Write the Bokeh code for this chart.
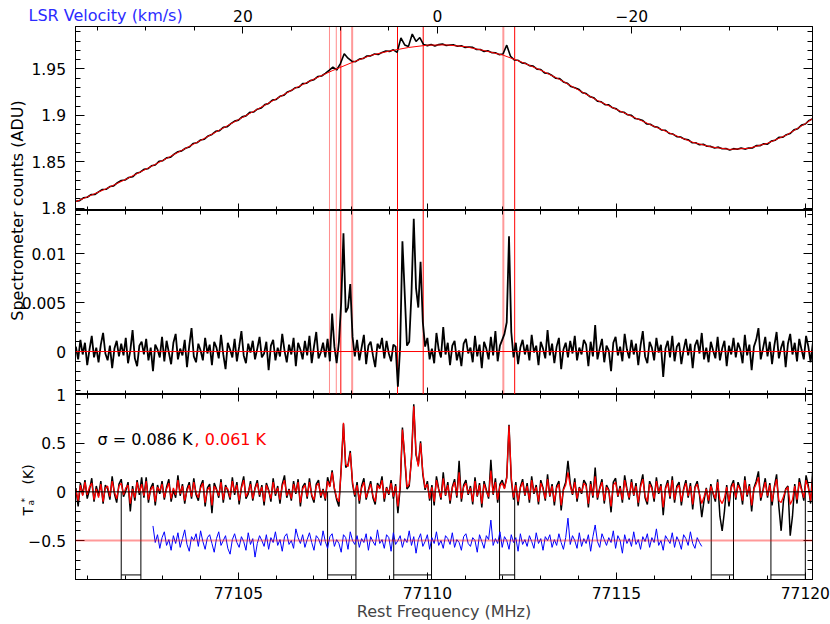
import numpy as np
from bokeh.plotting import figure
from bokeh.models import Range1d, LinearAxis, FixedTicker, Label, Span, ColumnDataSource
from bokeh.layouts import column, row
from bokeh.embed import file_html
from bokeh.resources import INLINE

# ------------------------------------------------------------------ data
freq_lo, freq_hi = 77100.69, 77120.19      # MHz, plotted window
v0_freq = 77110.265                         # MHz where v_LSR = 0
C_KMS = 299792.458

# panel 1: fitted baseline (red), ADU x 1e-4
base_freq = [77100.7, 77101.0, 77101.5, 77102.0, 77102.5, 77103.0, 77103.5, 77104.0,
             77104.5, 77105.0, 77105.5, 77106.0, 77106.5, 77107.0, 77107.5, 77108.0,
             77108.5, 77109.0, 77109.5, 77110.0, 77110.5, 77111.0, 77111.5, 77112.0,
             77112.5, 77113.0, 77113.5, 77114.0, 77114.5, 77115.0, 77115.5, 77116.0,
             77116.5, 77117.0, 77117.5, 77118.0, 77118.5, 77119.0, 77119.5, 77120.0,
             77120.2]
base_counts_e4 = [18071, 18122, 18210, 18308, 18410, 18515, 18623, 18730,
                  18842, 18954, 19065, 19178, 19292, 19391, 19484, 19568,
                  19646, 19693, 19731, 19756, 19759, 19740, 19698, 19649,
                  19573, 19487, 19387, 19272, 19161, 19065, 18973, 18882,
                  18795, 18713, 18661, 18634, 18645, 18700, 18788, 18911,
                  18968]

# panel 1: measured counts (black), 0.1 MHz sampling, ADU x 1e-4
top_freq0, top_dfreq = 77100.7, 0.1
top_counts_e4 = [
    18075, 18082, 18113, 18119, 18147, 18148, 18177, 18202, 18205, 18234,
    18241, 18275, 18299, 18304, 18331, 18339, 18376, 18388, 18419, 18425,
    18457, 18466, 18506, 18512, 18543, 18549, 18583, 18609, 18618, 18646,
    18659, 18697, 18705, 18735, 18744, 18779, 18795, 18829, 18836, 18871,
    18877, 18912, 18938, 18949, 18984, 18995, 19032, 19036, 19067, 19079,
    19116, 19129, 19164, 19172, 19205, 19216, 19253, 19267, 19297, 19303,
    19342, 19346, 19374, 19384, 19418, 19424, 19453, 19485, 19519, 19489,
    19558, 19664, 19616, 19583, 19578, 19606, 19612, 19639, 19641, 19661,
    19656, 19678, 19693, 19689, 19706, 19678, 19834, 19758, 19743, 19876,
    19796, 19838, 19763, 19751, 19764, 19748, 19762, 19769, 19753, 19758,
    19759, 19744, 19750, 19732, 19737, 19732, 19709, 19709, 19688, 19695,
    19676, 19675, 19654, 19661, 19756, 19637, 19597, 19593, 19565, 19560,
    19536, 19530, 19498, 19494, 19457, 19452, 19429, 19400, 19396, 19360,
    19347, 19310, 19298, 19282, 19245, 19235, 19202, 19191, 19152, 19146,
    19116, 19114, 19082, 19070, 19039, 19034, 19006, 19000, 18966, 18958,
    18945, 18908, 18905, 18879, 18872, 18842, 18840, 18805, 18799, 18771,
    18768, 18744, 18738, 18707, 18706, 18683, 18689, 18667, 18666, 18649,
    18658, 18640, 18643, 18626, 18642, 18635, 18650, 18637, 18648, 18649,
    18675, 18674, 18695, 18691, 18723, 18732, 18763, 18764, 18792, 18805,
    18844, 18857, 18895, 18907, 18946, 18965]

# panels 2-3: channel grid
chan_freq0, chan_dfreq = 77100.70, 0.06

# panel 2: residual counts, ADU x 1e-4
resid_e4 = [
    5, -8, 12, -3, 9, -14, 2, 16, -6, 4,
    -11, 7, 19, -2, -9, 6, -17, 3, 11, -5,
    8, -4, 14, -12, 1, 22, -7, -15, 6, 10,
    -3, 13, -9, 4, -20, 7, 2, -6, 15, -10,
    11, -1, -13, 9, 18, -8, 3, -4, 12, -16,
    6, 24, -5, -11, 8, 1, -9, 14, -2, 7,
    -14, 10, 4, -7, 17, -3, -18, 9, 2, -6,
    13, -10, 5, 21, -4, -12, 8, -1, 11, -8,
    3, 15, -6, -2, 10, -19, 6, 12, -9, 4,
    -5, 18, 1, -11, 7, -3, 14, -15, 9, 2,
    -8, 11, -4, 16, -12, 5, 20, -7, -1, 9,
    -6, 13, -10, 39, 5, -12, 10, 50, 121, 40,
    45, 69, 15, -5, 12, -9, 4, 17, -13, 6,
    10, -4, -16, 8, 3, 14, -7, 11, -2, -10,
    7, 5, -36, 5, 113, 60, 6, 10, 60, 136,
    65, 45, 92, 30, 5, 14, -8, 3, -12, 19,
    2, -6, 25, -3, 9, -14, 6, 11, -9, 1,
    -15, 8, 13, -2, 4, -11, 16, -5, 7, -17,
    10, 3, -8, 15, -4, 21, -10, 6, 12, 18,
    30, 118, 20, -6, 9, -13, 4, 12, -3, 7,
    -9, 17, -1, 6, -14, 10, 3, -7, 22, -4,
    8, -12, 5, 14, -18, 2, 9, -6, 11, -2,
    16, -9, 4, -3, 12, 7, -15, 10, -5, 27,
    -8, 3, 13, -11, 6, 1, -20, 9, 15, -4,
    5, -10, 18, 2, -7, 12, -3, 8, -14, 6,
    21, -5, -12, 10, 4, -9, 14, -1, 7, -26,
    3, 11, -6, 16, -10, 5, 9, -13, 2, 13,
    -4, 8, -17, 6, 12, -2, 19, -8, 4, -11,
    10, 1, -7, 15, -9, 3, 11, -15, 6, -3,
    14, -6, 9, 2, -12, 17, -4, 7, -19, 5,
    12, 24, -8, 3, 15, -5, 10, -13, 6, 20,
    -7, 4, 11, -16, 8, 18, -3, 9, -10, 13,
    2, -8, 16, 5, -11, 9]

# panel 3: antenna temperature, K x 100
ta_black_cK = [
    4, -15, 9, -3, 12, -7, 2, 14, -10, 6,
    -4, 11, -12, 7, 3, -8, 16, -2, -11, 8,
    13, -5, 1, 10, -20, 6, -9, 12, -3, 15,
    -6, 15, -11, 4, 9, -14, 7, -2, 11, -8,
    5, 13, -10, 2, -6, 17, -4, 8, -12, 3,
    10, -7, 14, -3, -9, 6, 12, -15, 4, 8,
    -22, 9, 3, -6, 13, -11, 7, 1, -8, 15,
    -3, 10, -13, 5, 16, -7, -2, 11, -9, 4,
    12, -5, 7, -14, 9, 2, -10, 14, -4, 6,
    -12, 8, 17, -6, 3, -9, 11, -2, 13, -15,
    5, 9, -7, 14, -4, -11, 8, 12, -6, 3,
    -9, 15, 6, 22, 3, -8, -15, 25, 70, 25,
    28, 42, 8, -5, 10, -12, 6, 14, -8, 2,
    11, -6, -13, 9, 4, 16, -10, 5, -3, 12,
    -7, 8, -22, 4, 66, 35, 3, 6, 35, 90,
    38, 28, 52, 18, 2, 11, -9, 7, -14, 16,
    3, -8, 20, -4, 10, -12, 5, 13, -6, 32,
    -10, 7, 12, -3, 6, -13, 15, -5, 9, -16,
    11, 2, -7, 33, -3, 14, -11, 8, 12, 4,
    15, 69, 12, -8, 10, -14, 5, 13, -4, 9,
    -11, 16, -2, 7, -13, 12, 4, -9, 18, -5,
    8, -14, 6, 11, -19, 3, 10, 32, 9, -3,
    14, -10, 5, -2, 12, 8, -16, 11, -6, 25,
    -8, 4, 13, -12, 7, 2, -21, 10, 14, -5,
    6, -11, 17, 3, -8, 13, -4, 9, -15, 7,
    18, -6, -13, 11, 5, -10, 15, -2, 8, -24,
    4, 12, -7, 16, -11, 6, 10, -14, 3, 12,
    -6, 9, -18, 5, 11, -3, -26, -9, 4, -12,
    8, -2, -10, 13, -25, -40, -20, 7, -15, 6,
    12, -8, 10, 3, -13, 16, -5, 8, -20, 4,
    11, 21, -9, 2, 14, -6, 9, -14, 5, 18,
    -15, -40, -10, 3, 6, -45, -25, 8, -12, 14,
    3, -9, 17, 6, -12, 25]

ta_red_cK = [
    2, -9, 7, -4, 10, -3, 5, 9, -8, 3,
    -6, 8, -10, 4, 6, -5, 11, 0, -7, 6,
    9, -3, 4, 7, -12, 3, -6, 10, -1, 8,
    -4, 11, -8, 2, 6, -10, 5, 1, 8, -6,
    3, 9, -7, 4, -3, 12, -2, 6, -9, 1,
    7, -5, 10, -1, -6, 4, 9, -11, 2, 5,
    -14, 6, 2, -4, 10, -8, 5, 3, -6, 11,
    -1, 7, -9, 4, 12, -5, 0, 8, -7, 3,
    9, -3, 5, -10, 7, 1, -7, 10, -2, 4,
    -8, 6, 12, -4, 2, -7, 8, -1, 10, -11,
    3, 7, -5, 10, -3, -8, 6, 9, -4, 2,
    -7, 11, 5, 20, 4, -6, -10, 22, 71, 28,
    26, 40, 10, -3, 7, -9, 4, 10, -6, 1,
    8, -4, -10, 7, 3, 12, -7, 4, -2, 9,
    -5, 6, -15, 6, 64, 38, 5, 8, 33, 88,
    40, 26, 50, 20, 4, 8, -7, 5, -10, 12,
    2, -6, 14, -3, 7, -9, 4, 10, -4, 20,
    -7, 5, 9, -2, 4, -10, 11, -4, 7, -12,
    8, 1, -5, 22, -2, 10, -8, 6, 9, 3,
    14, 68, 15, -6, 7, -10, 4, 10, -3, 6,
    -8, 12, -1, 5, -10, 9, 3, -7, 13, -4,
    6, -10, 4, 8, -14, 2, 7, 20, 6, -2,
    10, -7, 4, -1, 9, 6, -12, 8, -4, 16,
    -6, 3, 10, -9, 5, 1, -15, 7, 10, -4,
    4, -8, 12, 2, -6, 10, -3, 6, -11, 5,
    13, -4, -10, 8, 3, -7, 11, -1, 6, -16,
    3, 9, -5, 12, -8, 4, 7, -10, 2, 9,
    -4, 6, -13, 4, 8, -2, -12, -5, 3, -9,
    6, -1, -7, 10, -8, -12, -6, 5, -10, 4,
    9, -6, 7, 2, -9, 12, -3, 6, -14, 3,
    8, 15, -6, 1, 10, -4, 7, -10, 4, 13,
    -9, -11, -5, 2, 5, -13, -8, 6, -8, 10,
    2, -6, 12, 4, -9, 16]

blue_chan0 = 34
ta_blue_cK = [
    -35, -52, -44, -58, -47, -41, -55, -49, -60, -45,
    -53, -42, -57, -48, -39, -54, -61, -46, -50, -43,
    -56, -40, -51, -59, -47, -44, -53, -62, -48, -41,
    -55, -50, -45, -58, -64, -49, -43, -52, -57, -46,
    -51, -60, -42, -54, -48, -67, -53, -45, -50, -56,
    -44, -59, -47, -52, -41, -55, -49, -61, -46, -43,
    -54, -50, -58, -38, -47, -53, -44, -57, -49, -42,
    -52, -60, -45, -48, -55, -40, -51, -58, -46, -43,
    -56, -49, -53, -62, -44, -47, -59, -41, -50, -54,
    -45, -57, -48, -52, -43, -60, -46, -51, -55, -39,
    -53, -49, -58, -44, -47, -61, -42, -54, -50, -45,
    -57, -48, -52, -40, -55, -46, -63, -49, -43, -56,
    -51, -44, -59, -47, -53, -41, -55, -50, -58, -45,
    -48, -54, -42, -57, -49, -52, -60, -46, -43, -53,
    -56, -47, -50, -62, -44, -51, -58, -45, -49, -29,
    -55, -48, -53, -41, -57, -46, -50, -59, -44, -52,
    -47, -61, -43, -54, -49, -56, -45, -51, -58, -42,
    -53, -48, -60, -46, -50, -44, -57, -49, -55, -43,
    -52, -59, -47, -27, -54, -45, -50, -58, -42, -56,
    -48, -53, -44, -61, -46, -34, -51, -57, -43, -49,
    -55, -47, -52, -40, -58, -45, -50, -63, -44, -53,
    -48, -56, -41, -54, -49, -59, -46, -51, -43, -57,
    -47, -52, -38, -55, -50, -60, -45, -49, -53, -42,
    -57, -46, -51, -59, -44, -48, -55, -41, -53, -58,
    -47, -52, -56]

# fit windows (panels 1-2) and mask windows (panel 3), MHz
fit_win_edges = [77107.41, 77107.59, 77107.71, 77108.01, 77109.21, 77109.89, 77112.01, 77112.31]
fit_win_alpha = [0.45, 0.45, 1.0, 0.4, 1.0, 1.0, 0.4, 1.0]
fit_win_width = [1, 1, 1, 2, 1, 1, 2, 1]
mask_lo = [77101.90, 77107.36, 77109.11, 77111.91, 77117.51, 77119.09]
mask_hi = [77102.42, 77108.11, 77110.11, 77112.31, 77118.10, 77120.00]
mask_floor = -0.853

sigma_black, sigma_red = 0.086, 0.061

# axis ticks / labels
freq_major = [77105, 77110, 77115, 77120]
freq_minor = list(range(77101, 77121))
vel_major = [20, 0, -20]
vel_labels = ["20", "0", "\u221220"]
y1_major = [1.8, 1.85, 1.9, 1.95]
y1_labels = ["1.8", "1.85", "1.9", "1.95"]
y2_major = [0, 0.005, 0.01]
y2_labels = ["0", "0.005", "0.01"]
y3_major = [-0.5, 0, 0.5, 1.0]
y3_labels = ["\u22120.5", "0", "0.5", "1"]

# ------------------------------------------------------------------ derived arrays
top_freq = np.round(top_freq0 + top_dfreq * np.arange(len(top_counts_e4)), 3)
top_counts = np.array(top_counts_e4) / 1e4
base_counts = np.array(base_counts_e4) / 1e4
chan = np.round(chan_freq0 + chan_dfreq * np.arange(len(resid_e4)), 3)
resid = np.array(resid_e4) / 1e4
ta_black = np.array(ta_black_cK) / 100.0
ta_red = np.array(ta_red_cK) / 100.0
blue_freq = chan[blue_chan0:blue_chan0 + len(ta_blue_cK)]
ta_blue = np.array(ta_blue_cK) / 100.0

v_lo = C_KMS * (v0_freq - freq_lo) / v0_freq
v_hi = C_KMS * (v0_freq - freq_hi) / v0_freq

# ------------------------------------------------------------------ layout constants (px)
FONT = "DejaVu Sans"
RED = "#ff0000"
BLUE = "#0000ff"
TOTAL_W, TOP_H = 830, 26
LEFT_W, RIGHT_B = 75, 18
P1_H, P2_H, P3_FRAME, P3_BOTTOM = 184, 184, 185, 45
FRAME_W = TOTAL_W - LEFT_W - RIGHT_B
TICK_FS = "15.5px"

y1r = (1.7976, 1.9957)
y2r = (-0.0044, 0.01444)
y3r = (-0.9, 1.0)

xr = Range1d(freq_lo, freq_hi)


def clean(p):
    p.xgrid.visible = False
    p.ygrid.visible = False
    p.background_fill_color = "white"
    p.border_fill_color = "white"


def make_panel(height, yr, bottom=0):
    p = figure(width=TOTAL_W - LEFT_W, height=height, x_range=xr,
               y_range=Range1d(*yr), output_backend="svg", toolbar_location=None,
               x_axis_location=None, y_axis_location=None,
               min_border_left=0, min_border_right=RIGHT_B,
               min_border_top=0, min_border_bottom=bottom)
    clean(p)
    p.outline_line_color = "black"
    p.outline_line_width = 1
    return p


def add_axis(p, side, ticks, minor, major_len, minor_len, labels=None,
             range_name=None, standoff=0):
    kw = {}
    if range_name is not None:
        kw["x_range_name" if side in ("above", "below") else "y_range_name"] = range_name
    ax = LinearAxis(ticker=FixedTicker(ticks=ticks, minor_ticks=minor), **kw)
    ax.major_tick_in = major_len
    ax.major_tick_out = 0
    ax.minor_tick_in = minor_len
    ax.minor_tick_out = 0
    ax.axis_line_color = "black"
    ax.major_tick_line_color = "black"
    ax.minor_tick_line_color = "black"
    ax.major_label_text_font = FONT
    ax.major_label_text_font_size = TICK_FS
    ax.major_label_standoff = standoff
    if labels is None:
        ax.major_label_text_color = None
    else:
        ax.major_label_overrides = labels
        ax.major_label_text_color = "black"
    p.add_layout(ax, side)
    return ax


def add_text(p, text, x, y, size=TICK_FS, color="black", angle=0.0, align="left",
             baseline="alphabetic", xu="data", yu="data", y_range_name="default"):
    p.add_layout(Label(x=x, y=y, x_units=xu, y_units=yu, text=text, angle=angle,
                       y_range_name=y_range_name,
                       text_font=FONT, text_font_size=size, text_color=color,
                       text_align=align, text_baseline=baseline))


def window_lines(p, yr):
    n = len(fit_win_edges)
    src = ColumnDataSource(dict(x=fit_win_edges, y0=[yr[0]] * n, y1=[yr[1]] * n,
                                a=fit_win_alpha, w=fit_win_width))
    p.segment(x0="x", y0="y0", x1="x", y1="y1", line_color=RED,
              line_alpha="a", line_width="w", source=src)


y1_minor = np.round(np.arange(1.80, 1.995, 0.01), 3).tolist()
y2_minor = np.round(np.arange(-0.004, 0.0145, 0.001), 4).tolist()
y3_minor = np.round(np.arange(-0.9, 1.05, 0.1), 2).tolist()

# ------------------------------------------------------------------ panel 1
p1 = make_panel(P1_H, y1r)
p1.extra_x_ranges = {"vel": Range1d(v_lo, v_hi)}
add_axis(p1, "above", vel_major, list(range(-35, 40, 5)), 7, 4, range_name="vel")
add_axis(p1, "below", freq_major, freq_minor, 7, 4)
add_axis(p1, "left", y1_major, y1_minor, 9, 5)
add_axis(p1, "right", y1_major, y1_minor, 9, 5)
window_lines(p1, y1r)
p1.line(top_freq, top_counts, line_color="black", line_width=1.6)
p1.line(base_freq, base_counts, line_color=RED, line_width=1)

# ------------------------------------------------------------------ panel 2
p2 = make_panel(P2_H, y2r)
add_axis(p2, "above", freq_major, freq_minor, 7, 4)
add_axis(p2, "below", freq_major, freq_minor, 7, 4)
add_axis(p2, "left", y2_major, y2_minor, 9, 5)
add_axis(p2, "right", y2_major, y2_minor, 9, 5)
window_lines(p2, y2r)
p2.line(chan, resid, line_color="black", line_width=1.8)
p2.add_layout(Span(location=0, dimension="width", line_color=RED, line_width=1))

# ------------------------------------------------------------------ panel 3
p3 = make_panel(P3_FRAME + P3_BOTTOM, y3r, bottom=P3_BOTTOM)
add_axis(p3, "above", freq_major, freq_minor, 7, 4)
ax_b = add_axis(p3, "below", freq_major, freq_minor, 7, 4,
                labels={f: str(f) for f in freq_major}, standoff=7)
ax_b.axis_label = "Rest Frequency (MHz)"
ax_b.axis_label_text_font = FONT
ax_b.axis_label_text_font_size = "16px"
ax_b.axis_label_text_font_style = "normal"
ax_b.axis_label_standoff = 0
add_axis(p3, "left", y3_major, y3_minor, 9, 5)
add_axis(p3, "right", y3_major, y3_minor, 9, 5)

p3.add_layout(Span(location=-0.5, dimension="width", line_color=RED,
                   line_alpha=0.4, line_width=2))
nm = len(mask_lo)
p3.segment(x0=mask_lo + mask_hi, y0=[0.0] * (2 * nm), x1=mask_lo + mask_hi,
           y1=[y3r[0]] * (2 * nm), line_color="black", line_width=1)
p3.segment(x0=mask_lo, y0=[mask_floor] * nm, x1=mask_hi, y1=[mask_floor] * nm,
           line_color="black", line_width=1)
p3.line(blue_freq, ta_blue, line_color=BLUE, line_width=1.0)
p3.line(chan, ta_black, line_color="black", line_width=1.5)
p3.line(chan, ta_red, line_color=RED, line_width=1.3)
p3.add_layout(Span(location=0, dimension="width", line_color="black", line_width=1))
add_text(p3, f"\u03c3 = {sigma_black:.3f} K", 77101.27, 0.54, size="16px")
add_text(p3, f", {sigma_red:.3f} K", 77103.84, 0.54, size="16px", color=RED)

# ------------------------------------------------------------------ top strip (velocity labels)
v_per_px = (v_hi - v_lo) / FRAME_W
top = figure(width=TOTAL_W, height=TOP_H, output_backend="svg", toolbar_location=None,
             x_range=Range1d(v_lo - LEFT_W * v_per_px, v_hi + RIGHT_B * v_per_px),
             y_range=Range1d(0, TOP_H), x_axis_location=None, y_axis_location=None,
             min_border=0)
clean(top)
top.outline_line_color = None
for v, s in zip(vel_major, vel_labels):
    add_text(top, s, v, 11, align="center")
add_text(top, "LSR Velocity (km/s)", 28, 11, size="16px", color="#2b2bff", xu="screen")

# ------------------------------------------------------------------ left strip (y labels)
LEFT_H = P1_H + P2_H + P3_FRAME + P3_BOTTOM
left = figure(width=LEFT_W, height=LEFT_H, output_backend="svg", toolbar_location=None,
              x_range=Range1d(0, LEFT_W), y_range=Range1d(0, LEFT_H),
              x_axis_location=None, y_axis_location=None, min_border=0)
clean(left)
left.outline_line_color = None
b1 = P3_BOTTOM + P3_FRAME + P2_H          # strip y of panel-1 frame bottom
b2 = P3_BOTTOM + P3_FRAME                 # strip y of panel-2 frame bottom
b3 = P3_BOTTOM                            # strip y of panel-3 frame bottom
k1 = (y1r[1] - y1r[0]) / P1_H
k2 = (y2r[1] - y2r[0]) / P2_H
k3 = (y3r[1] - y3r[0]) / P3_FRAME
left.extra_y_ranges = {
    "p1": Range1d(y1r[0] - b1 * k1, y1r[1] + (LEFT_H - b1 - P1_H) * k1),
    "p2": Range1d(y2r[0] - b2 * k2, y2r[1] + (LEFT_H - b2 - P2_H) * k2),
    "p3": Range1d(y3r[0] - b3 * k3, y3r[1] + (LEFT_H - b3 - P3_FRAME) * k3),
}
for name, vals, labs in (("p1", y1_major, y1_labels), ("p2", y2_major, y2_labels),
                         ("p3", y3_major, y3_labels)):
    for v, s in zip(vals, labs):
        add_text(left, s, 65.5, v, align="right", baseline="middle", y_range_name=name)

add_text(left, "Spectrometer counts (ADU)", 16.5, b1, size="16px",
         angle=np.pi / 2, align="center")
t_base = LEFT_H - 515 + TOP_H
add_text(left, "T", 27.5, t_base, size="14px", angle=np.pi / 2)
add_text(left, "a", 30.5, t_base + 10, size="9px", angle=np.pi / 2)
add_text(left, "*", 24, t_base + 13, size="9px", angle=np.pi / 2)
add_text(left, "(K)", 27.5, t_base + 31, size="14px", angle=np.pi / 2)

layout = column(top, row(left, column(p1, p2, p3, spacing=0), spacing=0), spacing=0)
open("out.html", "w").write(file_html(layout, INLINE))
